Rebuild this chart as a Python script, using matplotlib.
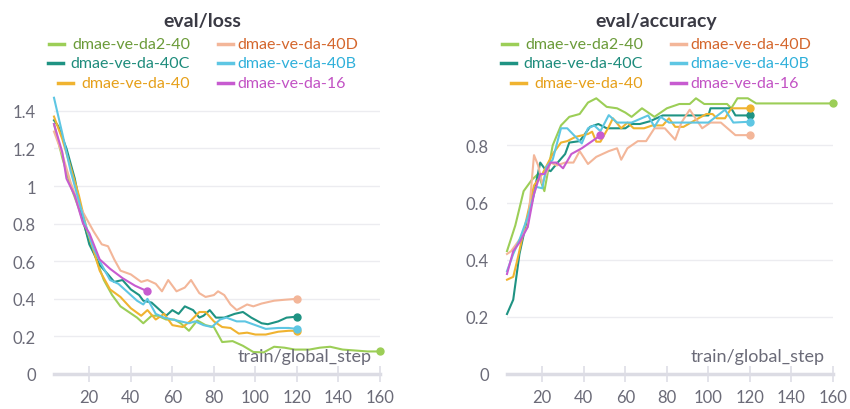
import matplotlib
matplotlib.use("Agg")
import matplotlib.pyplot as plt
from matplotlib.lines import Line2D

plt.rcParams['font.family'] = ['Lato', 'DejaVu Sans']

# run names, line colours and legend text colours
names = ["dmae-ve-da2-40", "dmae-ve-da-40C", "dmae-ve-da-40",
         "dmae-ve-da-40D", "dmae-ve-da-40B", "dmae-ve-da-16"]
line_colors = ["#9cce57", "#1f9383", "#f0b330", "#f3b699", "#5ec6e3", "#c75bd0"]
text_colors = ["#6b9b39", "#1e8c7c", "#e6a01a", "#d4662c", "#2fb0da", "#c252c4"]

# eval/loss
loss_steps = {
    "dmae-ve-da2-40": [3, 7, 11, 15, 19, 23, 27, 31, 35, 39, 43, 46, 50, 53, 57, 61, 64, 68, 72, 76,
                       80, 84, 89, 94, 99, 104, 109, 114, 119, 126, 131, 136, 142, 148, 154, 160],
    "dmae-ve-da-40C": [3, 5, 9, 13, 17, 20, 25, 29, 32, 36, 40, 44, 46, 50, 54, 57, 60, 63, 66, 70,
                       73, 75, 78, 81, 85, 90, 94, 98, 103, 106, 111, 115, 120],
    "dmae-ve-da-40": [3, 7, 11, 15, 19, 22, 25, 30, 35, 40, 45, 48, 52, 56, 60, 65, 69, 73, 76, 80,
                      84, 88, 92, 96, 100, 105, 111, 116, 120],
    "dmae-ve-da-40D": [3, 7, 11, 15, 18, 22, 26, 29, 32, 35, 40, 45, 48, 52, 55, 58, 62, 66, 69, 73,
                       76, 80, 82, 85, 88, 91, 96, 99, 103, 109, 114, 120],
    "dmae-ve-da-40B": [3, 7, 11, 15, 18, 22, 26, 30, 34, 38, 43, 46, 48, 52, 56, 60, 64, 68, 71, 75,
                       79, 83, 86, 91, 95, 100, 105, 111, 116, 120],
    "dmae-ve-da-16": [3, 7, 9, 13, 17, 20, 25, 30, 36, 42, 48],
}
loss_vals = {
    "dmae-ve-da2-40": [1.33, 1.15, 1.0, 0.88, 0.74, 0.62, 0.5, 0.42, 0.36, 0.33, 0.3, 0.27, 0.31, 0.31,
                       0.29, 0.29, 0.27, 0.23, 0.285, 0.26, 0.25, 0.17, 0.175, 0.15, 0.117, 0.115,
                       0.145, 0.14, 0.13, 0.13, 0.14, 0.145, 0.13, 0.125, 0.12, 0.12],
    "dmae-ve-da-40C": [1.35, 1.32, 1.2, 1.04, 0.82, 0.69, 0.58, 0.53, 0.49, 0.5, 0.45, 0.42, 0.39,
                       0.38, 0.34, 0.31, 0.34, 0.32, 0.36, 0.34, 0.3, 0.31, 0.34, 0.3, 0.3, 0.32,
                       0.33, 0.3, 0.27, 0.265, 0.28, 0.3, 0.305],
    "dmae-ve-da-40": [1.37, 1.25, 1.1, 0.95, 0.76, 0.66, 0.55, 0.45, 0.41, 0.35, 0.31, 0.34, 0.29,
                      0.32, 0.26, 0.25, 0.285, 0.33, 0.33, 0.28, 0.25, 0.245, 0.215, 0.22, 0.21,
                      0.21, 0.225, 0.23, 0.23],
    "dmae-ve-da-40D": [1.29, 1.17, 1.02, 0.9, 0.84, 0.76, 0.69, 0.68, 0.61, 0.55, 0.53, 0.49, 0.5,
                       0.48, 0.44, 0.5, 0.44, 0.46, 0.5, 0.43, 0.41, 0.42, 0.44, 0.42, 0.37, 0.34,
                       0.37, 0.36, 0.375, 0.39, 0.395, 0.40],
    "dmae-ve-da-40B": [1.47, 1.28, 1.08, 0.92, 0.8, 0.67, 0.58, 0.5, 0.48, 0.44, 0.39, 0.37, 0.4,
                       0.32, 0.3, 0.29, 0.28, 0.27, 0.28, 0.26, 0.25, 0.29, 0.3, 0.28, 0.28, 0.26,
                       0.24, 0.245, 0.245, 0.24],
    "dmae-ve-da-16": [1.33, 1.18, 1.04, 0.95, 0.8, 0.75, 0.61, 0.56, 0.51, 0.47, 0.44],
}

# eval/accuracy
acc_steps = {
    "dmae-ve-da2-40": [3, 7, 11, 15, 18, 21, 25, 29, 33, 38, 42, 46, 51, 56, 60, 63, 68, 74, 80, 86,
                       91, 94, 98, 104, 109, 111, 114, 119, 123, 130, 140, 150, 160],
    "dmae-ve-da-40C": [3, 6, 9, 12, 15, 19, 21, 24, 28, 31, 33, 38, 43, 47, 51, 55, 60, 63, 67, 72,
                       78, 84, 90, 100, 101, 106, 111, 113, 120],
    "dmae-ve-da-40": [3, 6, 8, 12, 16, 20, 25, 29, 32, 36, 42, 44, 46, 48, 52, 54, 58, 61, 64, 69,
                      73, 78, 81, 84, 88, 94, 99, 102, 104, 108, 111, 120],
    "dmae-ve-da-40D": [3, 5, 9, 13, 16, 18, 20, 24, 27, 31, 35, 38, 42, 46, 52, 56, 58, 61, 66, 70,
                       74, 79, 84, 87, 91, 97, 101, 106, 113, 120],
    "dmae-ve-da-40B": [3, 6, 9, 13, 17, 20, 22, 25, 29, 32, 36, 39, 42, 45, 48, 52, 56, 63, 71, 74,
                       77, 81, 90, 100, 108, 112, 120],
    "dmae-ve-da-16": [3, 6, 9, 13, 16, 19, 21, 24, 27, 30, 34, 39, 43, 48],
}
acc_vals = {
    "dmae-ve-da2-40": [0.43, 0.52, 0.64, 0.68, 0.7, 0.64, 0.8, 0.87, 0.9, 0.91, 0.95, 0.965, 0.935,
                       0.93, 0.915, 0.9, 0.93, 0.9, 0.93, 0.945, 0.945, 0.965, 0.945, 0.945, 0.945,
                       0.93, 0.965, 0.965, 0.947, 0.947, 0.947, 0.947, 0.947],
    "dmae-ve-da-40C": [0.21, 0.26, 0.42, 0.52, 0.6, 0.74, 0.72, 0.71, 0.745, 0.77, 0.81, 0.815, 0.865,
                       0.875, 0.86, 0.86, 0.86, 0.875, 0.875, 0.885, 0.905, 0.905, 0.905, 0.905,
                       0.93, 0.93, 0.93, 0.905, 0.905],
    "dmae-ve-da-40": [0.33, 0.34, 0.40, 0.53, 0.66, 0.70, 0.77, 0.81, 0.815, 0.83, 0.84, 0.848, 0.813,
                      0.813, 0.865, 0.895, 0.86, 0.88, 0.86, 0.86, 0.87, 0.87, 0.895, 0.865, 0.865,
                      0.89, 0.91, 0.91, 0.895, 0.895, 0.93, 0.93],
    "dmae-ve-da-40D": [0.42, 0.43, 0.47, 0.515, 0.766, 0.73, 0.667, 0.74, 0.73, 0.74, 0.74, 0.78,
                       0.735, 0.76, 0.78, 0.79, 0.75, 0.79, 0.815, 0.815, 0.86, 0.86, 0.82, 0.88,
                       0.925, 0.86, 0.88, 0.88, 0.836, 0.836],
    "dmae-ve-da-40B": [0.36, 0.42, 0.47, 0.55, 0.655, 0.65, 0.725, 0.75, 0.86, 0.86, 0.83, 0.807,
                       0.86, 0.87, 0.85, 0.906, 0.88, 0.88, 0.905, 0.865, 0.9, 0.88, 0.88, 0.88,
                       0.925, 0.88, 0.883],
    "dmae-ve-da-16": [0.35, 0.43, 0.46, 0.515, 0.63, 0.70, 0.70, 0.74, 0.74, 0.72, 0.77, 0.79, 0.81,
                      0.835],
}

x_ticks = [20, 40, 60, 80, 100, 120, 140, 160]
loss_yticks = [0, 0.2, 0.4, 0.6, 0.8, 1.0, 1.2, 1.4]
loss_ylabels = ["0", "0.2", "0.4", "0.6", "0.8", "1", "1.2", "1.4"]
acc_yticks = [0, 0.2, 0.4, 0.6, 0.8]
acc_ylabels = ["0", "0.2", "0.4", "0.6", "0.8"]

W, H = 850, 410
fig = plt.figure(figsize=(W / 100, H / 100), dpi=100)
fig.patch.set_facecolor("white")

grey = "#6b6b78"


def panel(left_px, steps, vals, ylim, yticks, ylabels, title, title_x):
    ax = fig.add_axes([left_px / W, 35 / H, 326 / W, 280 / H])
    for spine in ax.spines.values():
        spine.set_visible(False)
    ax.set_xlim(3, 160)
    ax.set_ylim(*ylim)
    ax.set_yticks(yticks)
    ax.set_yticklabels(ylabels)
    ax.set_xticks(x_ticks)
    ax.tick_params(axis="y", length=0, pad=13, labelsize=12, labelcolor=grey)
    ax.tick_params(axis="x", direction="inout", length=12, width=1.2, color="#dedee6",
                   pad=5, labelsize=12, labelcolor=grey)
    for y in yticks[1:]:
        ax.axhline(y, color="#ececf0", lw=1, zorder=0)
    ax.axhline(0, color="#dcdce4", lw=2.5, zorder=1, clip_on=False)
    for name, c in zip(names, line_colors):
        ax.plot(steps[name], vals[name], color=c, lw=1.5, zorder=3,
                solid_joinstyle="round", clip_on=False)
        ax.plot(steps[name][-1], vals[name][-1], "o", color=c, ms=5, zorder=4, clip_on=False)
    ax.text(0.975, 0.035, "train/global_step", transform=ax.transAxes, ha="right",
            va="bottom", fontsize=13, color=grey)
    fig.text(title_x / W, 1 - 21 / H, title, ha="center", va="center",
             fontsize=14, fontweight="bold", color="#3a3a44")
    return ax


panel(54, loss_steps, loss_vals, (0, 1.49), loss_yticks, loss_ylabels, "eval/loss", 202)
panel(507, acc_steps, acc_vals, (0, 0.98), acc_yticks, acc_ylabels, "eval/accuracy", 656)

# legends, left column right-aligned, right column left-aligned
rows_y = [45, 64, 84]
fig.canvas.draw()
renderer = fig.canvas.get_renderer()
for off in [0, 453]:
    for i in range(3):
        # left column
        t = fig.text((190 + off) / W, 1 - rows_y[i] / H, names[i], ha="right", va="center",
                     fontsize=11.5, color=text_colors[i])
        bb = t.get_window_extent(renderer)
        x1 = bb.x0 - 8
        fig.add_artist(Line2D([(x1 - 15) / W, x1 / W], [1 - rows_y[i] / H] * 2,
                              transform=fig.transFigure, color=line_colors[i], lw=2.5))
        # right column
        j = i + 3
        fig.text((237 + off) / W, 1 - rows_y[i] / H, names[j], ha="left", va="center",
                 fontsize=11.5, color=text_colors[j])
        fig.add_artist(Line2D([(218 + off) / W, (233 + off) / W], [1 - rows_y[i] / H] * 2,
                              transform=fig.transFigure, color=line_colors[j], lw=2.5))

fig.savefig("out.png", dpi=100)
